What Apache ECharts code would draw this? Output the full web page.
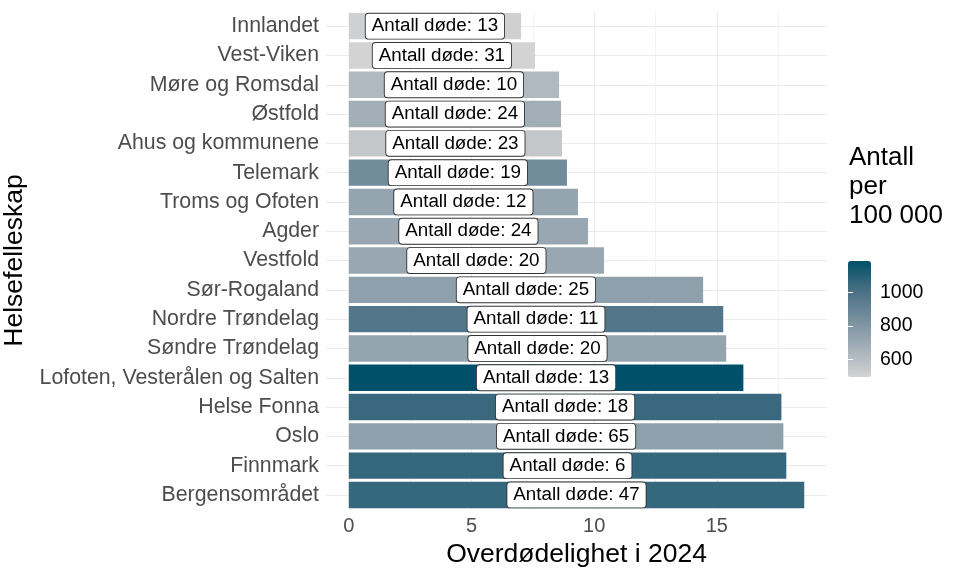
<!DOCTYPE html>
<html><head><meta charset="utf-8">
<script src="https://cdn.jsdelivr.net/npm/echarts@6/dist/echarts.min.js"></script>
<style>html,body{margin:0;padding:0;background:#fff}#c{width:960px;height:576px}</style>
</head><body><div id="c"></div>
<script>
const categories = ["Innlandet","Vest-Viken","Møre og Romsdal","Østfold","Ahus og kommunene","Telemark","Troms og Ofoten","Agder","Vestfold","Sør-Rogaland","Nordre Trøndelag","Søndre Trøndelag","Lofoten, Vesterålen og Salten","Helse Fonna","Oslo","Finnmark","Bergensområdet"];
const excessMortality = [7.02, 7.59, 8.57, 8.65, 8.69, 8.89, 9.34, 9.75, 10.40, 14.44, 15.26, 15.38, 16.08, 17.63, 17.71, 17.83, 18.56];
const deaths = [13, 31, 10, 24, 23, 19, 12, 24, 20, 25, 11, 20, 13, 18, 65, 6, 47];
const ratePer100k = [510, 496, 625, 672, 555, 860, 728, 715, 715, 750, 970, 728, 1187, 1045, 750, 1060, 1058];
const xTicks = [0, 5, 10, 15];
const xMinorGrid = [2.5, 7.5, 12.5, 17.5];
const legendTicks = [600, 800, 1000];
const gradientColors = ["#D3D3D3", "#A4B0B8", "#768F9D", "#476F83", "#00506A"];

const FONT = '"Liberation Sans", Arial, Helvetica, sans-serif';
const chart = echarts.init(document.getElementById('c'), null, {renderer: 'canvas'});
const xMax = Math.max(...excessMortality);
const pad = xMax * 0.05;
const rateMin = Math.min(...ratePer100k), rateMax = Math.max(...ratePer100k);

const gridLines = []
  .concat(xTicks.map(v => ({xAxis: v, lineStyle: {width: 1.1, color: '#ebebeb', type: 'solid'}})))
  .concat(xMinorGrid.map(v => ({xAxis: v, lineStyle: {width: 0.6, color: '#ebebeb', type: 'solid'}})))
  .concat(categories.map((c, i) => ({yAxis: i, lineStyle: {width: 1.1, color: '#ebebeb', type: 'solid'}})));

const option = {
  animation: false,
  backgroundColor: '#fff',
  textStyle: {fontFamily: FONT},
  title: {
    text: 'Antall\nper\n100 000', left: 849, top: 143, padding: 0,
    textStyle: {fontSize: 26, fontWeight: 'normal', color: '#000', lineHeight: 29, fontFamily: FONT}
  },
  grid: [
    {left: 326, right: 133, top: 11.5, bottom: 66.4, containLabel: false, outerBoundsMode: 'none'},
    {left: 848, top: 261, width: 23, height: 116, containLabel: false, outerBoundsMode: 'none'}
  ],
  xAxis: [
    {
      type: 'value', min: -pad, max: xMax + pad,
      axisLine: {show: false}, axisTick: {show: false}, splitLine: {show: false},
      axisLabel: {customValues: xTicks, fontSize: 20, color: '#4d4d4d', margin: 7, fontFamily: FONT},
      name: 'Overdødelighet i 2024', nameLocation: 'middle', nameGap: 30,
      nameTextStyle: {fontSize: 26.5, color: '#000', fontFamily: FONT}
    },
    {gridIndex: 1, type: 'value', min: 0, max: 1, show: false}
  ],
  yAxis: [
    {
      type: 'category', data: categories, inverse: true,
      axisLine: {show: false}, axisTick: {show: false}, splitLine: {show: false},
      axisLabel: {fontSize: 21.3, color: '#4d4d4d', margin: 7, fontFamily: FONT},
      name: 'Helsefelleskap', nameLocation: 'middle', nameGap: 287,
      nameTextStyle: {fontSize: 26.5, color: '#000', fontFamily: FONT}
    },
    {
      gridIndex: 1, type: 'value', min: rateMin, max: rateMax, position: 'right', z: 10,
      axisLine: {show: false},
      axisTick: {show: true, inside: true, length: 5, customValues: legendTicks, lineStyle: {color: '#ffffff', width: 1}},
      splitLine: {show: false},
      axisLabel: {customValues: legendTicks, fontSize: 19.5, color: '#000', margin: 9, fontFamily: FONT, formatter: v => String(v)}
    },
    {
      gridIndex: 1, type: 'value', min: rateMin, max: rateMax, position: 'left', z: 10,
      axisLine: {show: false},
      axisTick: {show: true, inside: true, length: 5, customValues: legendTicks, lineStyle: {color: '#ffffff', width: 1}},
      splitLine: {show: false},
      axisLabel: {show: false}
    }
  ],
  visualMap: {
    type: 'continuous', min: rateMin, max: rateMax, dimension: 2, seriesIndex: 1,
    left: 848, top: 261, itemWidth: 23, itemHeight: 116, padding: 0,
    calculable: false, hoverLink: false, text: null, showLabel: false,
    inRange: {color: gradientColors}
  },
  series: [
    {
      type: 'line', data: [], silent: true, z: 0, zlevel: 0, xAxisIndex: 0, yAxisIndex: 0,
      markLine: {silent: true, z: 0, symbol: ['none', 'none'], label: {show: false}, animation: false, data: gridLines}
    },
    {
      type: 'bar', xAxisIndex: 0, yAxisIndex: 0, z: 3,
      data: excessMortality.map((v, i) => [v, categories[i], ratePer100k[i]]),
      encode: {x: 0, y: 1},
      barCategoryGap: '10%',
      label: {
        show: true, position: 'inside',
        formatter: p => 'Antall døde: ' + deaths[p.dataIndex],
        fontSize: 18.8, color: '#000', fontFamily: FONT, lineHeight: 19,
        backgroundColor: '#fff', borderColor: '#333', borderWidth: 0.9, borderRadius: 3,
        padding: [3, 6]
      }
    }
  ]
};
chart.setOption(option);
</script>
</body></html>
